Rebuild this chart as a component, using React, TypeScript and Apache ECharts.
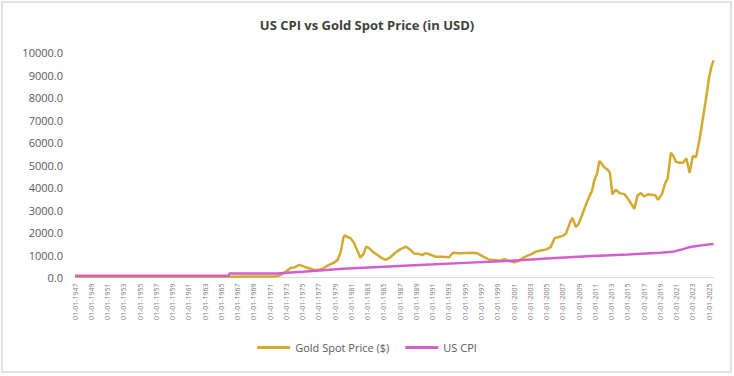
import React, { useEffect, useRef } from "react";
import * as echarts from "echarts";

const BASE_YEAR = 1947;
const LAST_LABEL_OFFSET = 78; // 2025

const goldYears = [
  1947.0, 1950.0, 1955.0, 1960.0, 1965.0, 1968.0, 1970.9, 1971.5, 1972.0, 1972.5,
  1973.0, 1973.5, 1974.0, 1974.6, 1975.2, 1975.8, 1976.5, 1977.0, 1977.6, 1978.2,
  1978.8, 1979.3, 1979.7, 1980.0, 1980.2, 1980.5, 1980.9, 1981.3, 1981.6, 1982.1,
  1982.5, 1982.8, 1983.2, 1983.6, 1984.2, 1984.8, 1985.2, 1985.8, 1986.4, 1987.0,
  1987.7, 1988.2, 1988.7, 1989.3, 1989.7, 1990.2, 1990.8, 1991.4, 1992.2, 1993.0,
  1993.5, 1994.3, 1995.1, 1995.9, 1996.5, 1997.1, 1997.9, 1998.6, 1999.3, 1999.8,
  2000.3, 2001.0, 2001.6, 2002.0, 2002.6, 2003.2, 2003.7, 2004.3, 2005.0, 2005.5,
  2006.0, 2006.5, 2007.0, 2007.4, 2007.9, 2008.2, 2008.6, 2008.9, 2009.3, 2009.7,
  2010.2, 2010.6, 2010.9, 2011.2, 2011.5, 2011.8, 2012.1, 2012.5, 2012.8, 2013.1,
  2013.5, 2014.0, 2014.6, 2015.2, 2015.8, 2016.2, 2016.6, 2017.0, 2017.5, 2017.9,
  2018.4, 2018.7, 2019.2, 2019.6, 2019.9, 2020.3, 2020.6, 2020.9, 2021.3, 2021.8,
  2022.2, 2022.6, 2023.0, 2023.4, 2023.8, 2024.2, 2024.6, 2025.0, 2025.3, 2025.55,
];
const goldValues = [
  35, 35, 36, 36, 36, 40, 40, 45, 70, 150,
  280, 420, 450, 560, 480, 410, 330, 340, 420, 550,
  650, 780, 1150, 1750, 1880, 1800, 1750, 1550, 1300, 880,
  1050, 1370, 1300, 1150, 1000, 850, 780, 900, 1100, 1250,
  1370, 1250, 1070, 1050, 1000, 1080, 1000, 920, 920, 900,
  1100, 1080, 1090, 1100, 1080, 950, 800, 780, 750, 820,
  750, 680, 740, 850, 960, 1050, 1150, 1200, 1250, 1350,
  1750, 1800, 1850, 1960, 2450, 2650, 2250, 2350, 2700, 3100,
  3550, 3850, 4350, 4600, 5180, 5050, 4900, 4800, 4650, 3700,
  3900, 3750, 3700, 3400, 3050, 3650, 3750, 3600, 3700, 3680,
  3650, 3450, 3700, 4200, 4400, 5550, 5400, 5150, 5100, 5100,
  5300, 4650, 5400, 5350, 6100, 7000, 7900, 8900, 9400, 9650,
];

const cpiYears = [
  1947.0, 1965.9, 1966.0, 1971.9, 1973.0, 1975.0, 1980.0, 1985.0, 1990.0, 1995.0,
  2000.0, 2005.0, 2010.0, 2015.0, 2019.0, 2020.5, 2021.5, 2022.5, 2023.5, 2024.5, 2025.55,
];
const cpiValues = [
  80, 80, 180, 180, 210, 260, 390, 480, 570, 650,
  730, 840, 940, 1020, 1100, 1140, 1230, 1340, 1400, 1450, 1490,
];

const yTicks = { min: 0, max: 10000, interval: 1000 };

const toPairs = (years: number[], values: number[]) =>
  years.map((y, i) => [y - BASE_YEAR, values[i]]);

export default function App() {
  const ref = useRef<HTMLDivElement>(null);

  useEffect(() => {
    if (!ref.current) return;
    const chart = echarts.init(ref.current, null, { renderer: "svg" });
    const font = "'Open Sans', 'Noto Sans', sans-serif";
    chart.setOption({
      animation: false,
      backgroundColor: "#ffffff",
      textStyle: { fontFamily: font },
      title: {
        text: "US CPI vs Gold Spot Price (in USD)",
        left: "center",
        top: 13,
        textStyle: { fontSize: 13, fontWeight: "bold", color: "#404040", fontFamily: font },
      },
      graphic: [
        {
          type: "rect",
          shape: { x: 2, y: 2, width: 729, height: 370 },
          style: { fill: "none", stroke: "#d9d9d9", lineWidth: 1.5 },
          silent: true,
        },
      ],
      grid: { left: 75, right: 20, top: 52.5, bottom: 98.5, containLabel: false },
      legend: {
        bottom: 18,
        left: "center",
        icon: "rect",
        itemWidth: 33,
        itemHeight: 3,
        itemGap: 16,
        textStyle: { fontSize: 11, color: "#595959", fontFamily: font },
        data: ["Gold Spot Price ($)", "US CPI"],
      },
      xAxis: {
        type: "value",
        min: 0,
        max: 78.6,
        interval: 2,
        axisLine: { show: true, lineStyle: { color: "#d9d9d9", width: 1 } },
        axisTick: { show: false },
        splitLine: { show: false },
        axisLabel: {
          rotate: 90,
          fontSize: 7,
          color: "#808080",
          margin: 6,
          showMaxLabel: false,
          formatter: (v: number) =>
            v > LAST_LABEL_OFFSET ? "" : `01-01-${BASE_YEAR + Math.round(v)}`,
        },
      },
      yAxis: {
        type: "value",
        min: yTicks.min,
        max: yTicks.max,
        interval: yTicks.interval,
        axisLine: { show: false },
        axisTick: { show: false },
        splitLine: { show: false },
        axisLabel: {
          fontSize: 11,
          color: "#595959",
          margin: 12,
          formatter: (v: number) => v.toFixed(1),
        },
      },
      series: [
        {
          name: "Gold Spot Price ($)",
          type: "line",
          data: toPairs(goldYears, goldValues),
          showSymbol: false,
          symbol: "none",
          itemStyle: { color: "#D3A92F" },
          lineStyle: { color: "#D3A92F", width: 2.5 },
        },
        {
          name: "US CPI",
          type: "line",
          data: toPairs(cpiYears, cpiValues),
          showSymbol: false,
          symbol: "none",
          itemStyle: { color: "#D35FCC" },
          lineStyle: { color: "#D35FCC", width: 2.5 },
        },
      ],
    });
    return () => chart.dispose();
  }, []);

  return (
    <div
      ref={ref}
      style={{ position: "fixed", left: 0, top: 0, width: 734, height: 376 }}
    />
  );
}
